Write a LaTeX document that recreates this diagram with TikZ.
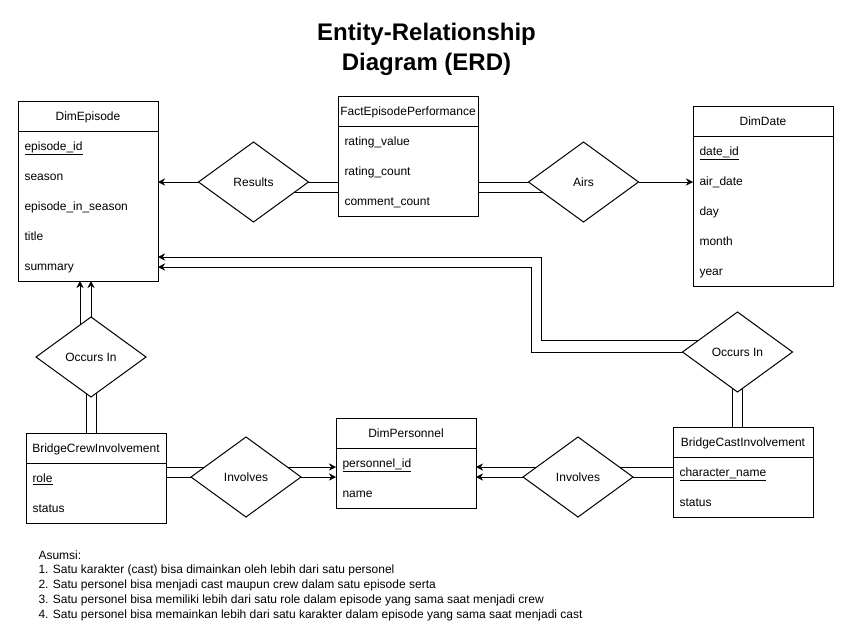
\documentclass[tikz,border=0pt]{standalone}
\usepackage{fontspec}
\setmainfont{Liberation Sans}
\usetikzlibrary{positioning,shapes.geometric,arrows.meta,backgrounds}

\tikzset{
  ehead/.style={draw, anchor=north west, minimum width=140pt, minimum height=30pt, inner sep=0pt, outer sep=0pt, text height=8.6pt, text depth=0pt},
  ebody/.style={draw, minimum width=140pt, inner sep=0pt, outer sep=0pt},
  efield/.style={anchor=base west, inner sep=0pt},
  rel/.style={diamond, draw, fill=white, minimum width=110pt, minimum height=80pt, inner sep=0pt, outer sep=0pt, text height=8.6pt, text depth=0pt},
  arr/.style={-{Stealth[length=7pt,width=7pt]}},
}

% entity box: name, top left, title, rows, fields
\newcommand{\entity}[5]{%
  \node[ehead] (#1) at (#2) {#3};
  \node[ebody, minimum height=#4*30pt, below=0pt of #1] (#1b) {};
  \foreach \f [count=\i] in {#5}
    \node[efield] at ([xshift=6pt, yshift=10.7pt-30pt*\i]#1b.north west) {\f};
}

\begin{document}
\begin{tikzpicture}[x=1pt,y=-1pt,line width=1pt,font=\fontsize{12}{14}\selectfont]
  \useasboundingbox (0,0) rectangle (860,627);

  \node[align=center, font=\fontsize{24}{30}\selectfont\bfseries] (title) at (426.5,49) {Entity-Relationship\\Diagram (ERD)};

  \entity{ep}{18,101}{DimEpisode}{5}{\underline{episode\_id},season,episode\_in\_season,title,summary}
  \entity{fact}{338,96}{FactEpisodePerformance}{3}{rating\_value,rating\_count,comment\_count}
  \entity{dd}{693,106}{DimDate}{5}{\underline{date\_id},air\_date,day,month,year}
  \entity{pers}{336,418}{DimPersonnel}{2}{\underline{personnel\_id},name}
  \entity{crew}{26,433}{BridgeCrewInvolvement}{2}{\underline{role},status}
  \entity{cast}{673,427}{BridgeCastInvolvement}{2}{\underline{character\_name},status}

  \node[rel] (results) at (253.5,182) {Results};
  \node[rel] (airs) at (583.5,182) {Airs};
  \node[rel] (occep) at (91,357) {Occurs In};
  \node[rel] (occcast) at (737.5,352) {Occurs In};
  \node[rel] (invcrew) at (246,477) {Involves};
  \node[rel] (invcast) at (578,477) {Involves};

  \begin{scope}[on background layer]
    % Results
    \draw[arr] (results.west) -- (results.west -| ep.east);
    \draw (results.center) -- (results.center -| fact.west);
    \draw ([yshift=-10pt]results.center) -- ([yshift=-10pt]results.center -| fact.west);
    % Airs
    \draw (airs.center) -- (airs.center -| fact.east);
    \draw ([yshift=-10pt]airs.center) -- ([yshift=-10pt]airs.center -| fact.east);
    \draw[arr] (airs.east) -- (airs.east -| dd.west);
    % Occurs In (crew)
    \draw[arr] (occep.north) -- (occep.north |- epb.south);
    \draw[arr] ([xshift=-11pt]occep.center) -- ([xshift=-11pt]occep.center |- epb.south);
    \draw ([xshift=-5pt]occep.center) -- ([xshift=-5pt]occep.center |- crew.north);
    \draw ([xshift=5pt]occep.center) -- ([xshift=5pt]occep.center |- crew.north);
    % Occurs In (cast)
    \draw[arr] ([yshift=12pt]occcast.center) -- ++(-196.5,0) |- ([yshift=-51pt]epb.east);
    \draw[arr] (occcast.center) -- ++(-206.5,0) |- ([yshift=-61pt]epb.east);
    \draw ([xshift=-5pt]occcast.center) -- ([xshift=-5pt]occcast.center |- cast.north);
    \draw ([xshift=5pt]occcast.center) -- ([xshift=5pt]occcast.center |- cast.north);
    % Involves
    \draw (invcrew.center) -- (invcrew.center -| crewb.east);
    \draw ([yshift=10pt]invcrew.center) -- ([yshift=10pt]invcrew.center -| crewb.east);
    \draw[arr] (invcrew.center) -- (invcrew.center -| persb.west);
    \draw[arr] ([yshift=10pt]invcrew.center) -- ([yshift=10pt]invcrew.center -| persb.west);
    \draw[arr] (invcast.center) -- (invcast.center -| persb.east);
    \draw[arr] ([yshift=10pt]invcast.center) -- ([yshift=10pt]invcast.center -| persb.east);
    \draw (invcast.center) -- (invcast.center -| castb.west);
    \draw ([yshift=10pt]invcast.center) -- ([yshift=10pt]invcast.center -| castb.west);
  \end{scope}

  \node[anchor=north west, inner sep=0pt, align=left, font=\fontsize{12}{14.75}\selectfont] (notes) at (38,550) {Asumsi:\\
    1. Satu karakter (cast) bisa dimainkan oleh lebih dari satu personel\\
    2. Satu personel bisa menjadi cast maupun crew dalam satu episode serta\\
    3. Satu personel bisa memiliki lebih dari satu role dalam episode yang sama saat menjadi crew\\
    4. Satu personel bisa memainkan lebih dari satu karakter dalam episode yang sama saat menjadi cast};
\end{tikzpicture}
\end{document}
